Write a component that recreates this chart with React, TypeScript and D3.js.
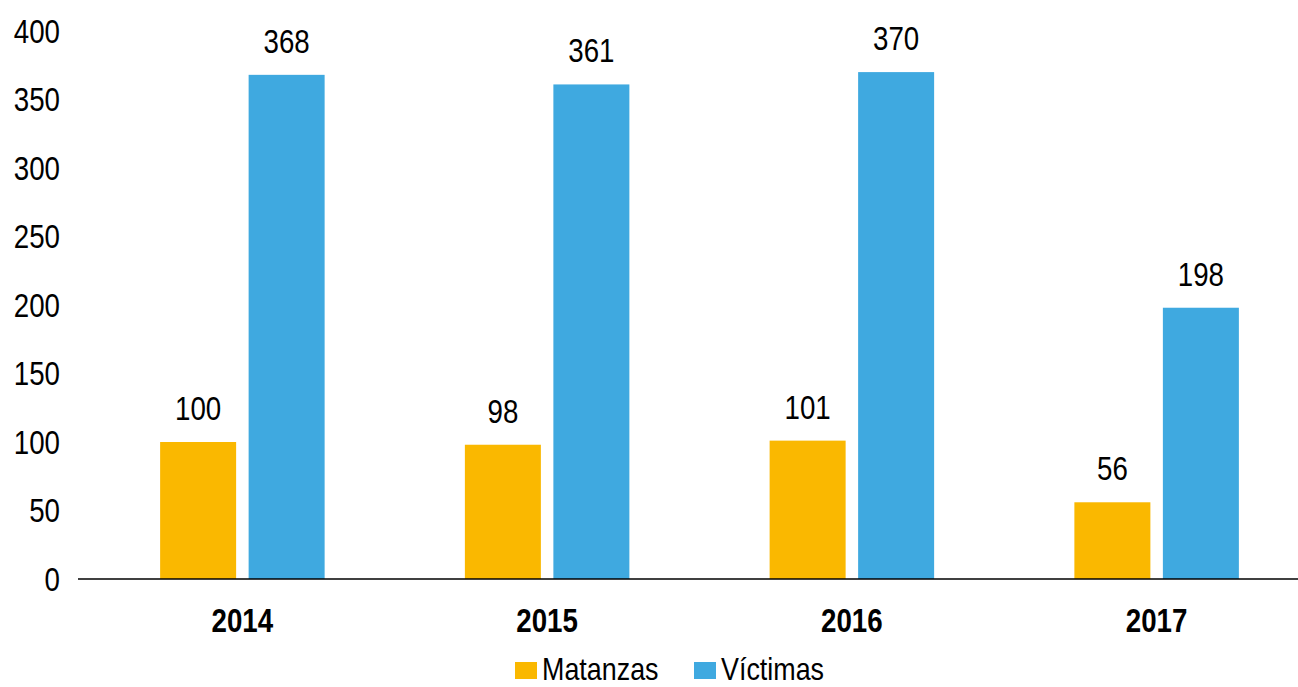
import React, { useEffect, useRef } from "react";
import * as d3 from "d3";

const years = ["2014", "2015", "2016", "2017"];
const matanzas = [100, 98, 101, 56];
const victimas = [368, 361, 370, 198];
const seriesNames = ["Matanzas", "Víctimas"];
const seriesColors = ["#FAB800", "#3FA9E0"];
const yTicks = [0, 50, 100, 150, 200, 250, 300, 350, 400];

const FONT = "'Liberation Sans', Arial, sans-serif";
const NARROW = 0.84; // squeeze to mimic Arial Narrow

const App = () => {
  const svgRef = useRef<SVGSVGElement>(null);

  useEffect(() => {
    const width = 1298;
    const svg = d3.select(svgRef.current);
    svg.selectAll("*").remove();

    const x = d3.scaleBand().domain(years).range([90, 1309]).paddingInner(0).paddingOuter(0);
    const y = d3.scaleLinear().domain([0, 400]).range([579, 31]);

    const barW = 76;
    const gap = 12.5;

    const place = (px: number, py: number) => `translate(${px},${py}) scale(${NARROW},1)`;

    // y tick labels (no axis line)
    svg.append("g")
      .selectAll("text")
      .data(yTicks)
      .join("text")
      .attr("transform", (d) => place(60, y(d)))
      .attr("dy", "0.36em")
      .attr("text-anchor", "end")
      .style("font-family", FONT)
      .style("font-size", "33px")
      .attr("fill", "#000")
      .text((d) => d);

    const series = [matanzas, victimas];
    series.forEach((vals, si) => {
      const g = svg.append("g");
      const xPos = (i: number) =>
        x(years[i])! + x.bandwidth() / 2 + (si === 0 ? -gap / 2 - barW : gap / 2);
      g.selectAll("rect")
        .data(vals)
        .join("rect")
        .attr("x", (_, i) => xPos(i))
        .attr("y", (d) => y(d))
        .attr("width", barW)
        .attr("height", (d) => y(0) - y(d))
        .attr("fill", seriesColors[si]);
      g.selectAll("text")
        .data(vals)
        .join("text")
        .attr("transform", (d, i) => place(xPos(i) + barW / 2, y(d) - 22))
        .attr("text-anchor", "middle")
        .style("font-family", FONT)
        .style("font-size", "33px")
        .attr("fill", "#000")
        .text((d) => d);
    });

    // baseline
    svg.append("line")
      .attr("x1", 78)
      .attr("x2", width)
      .attr("y1", y(0))
      .attr("y2", y(0))
      .attr("stroke", "#000")
      .attr("stroke-width", 1.5);

    // category labels
    svg.append("g")
      .selectAll("text")
      .data(years)
      .join("text")
      .attr("transform", (d) => place(x(d)! + x.bandwidth() / 2, 632))
      .attr("text-anchor", "middle")
      .style("font-family", FONT)
      .style("font-size", "33px")
      .style("font-weight", "bold")
      .attr("fill", "#000")
      .text((d) => d);

    // legend
    const legendX = [515, 694];
    const legend = svg.append("g");
    seriesNames.forEach((name, i) => {
      legend.append("rect")
        .attr("x", legendX[i])
        .attr("y", 662)
        .attr("width", 22)
        .attr("height", 17)
        .attr("fill", seriesColors[i]);
      legend.append("text")
        .attr("transform", place(legendX[i] + 27, 680))
        .style("font-family", FONT)
        .style("font-size", "32px")
        .attr("fill", "#000")
        .text(name);
    });
  }, []);

  return (
    <svg
      ref={svgRef}
      width={1298}
      height={687}
      style={{ position: "absolute", left: 0, top: 0, background: "#fff" }}
    />
  );
};

export default App;
